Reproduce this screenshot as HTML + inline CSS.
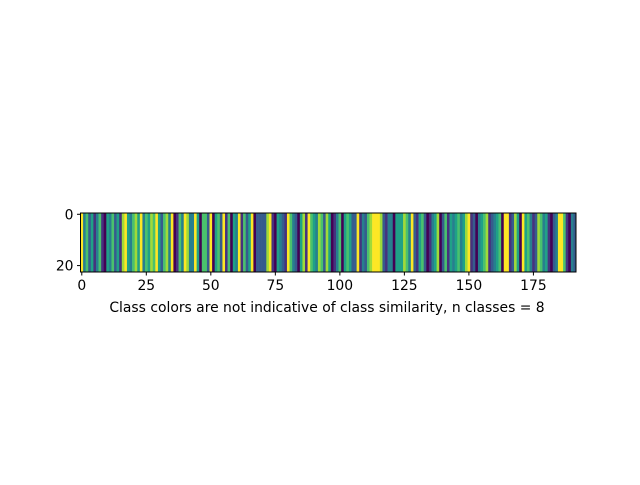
<!DOCTYPE html>
<html><head><meta charset="utf-8"><style>
body{margin:0;background:#fff;}
svg text{font-family:"DejaVu Sans","Liberation Sans",sans-serif;font-size:13.9px;fill:#000;}
</style></head><body>
<svg id="chart" width="640" height="480" xmlns="http://www.w3.org/2000/svg">
<rect width="640" height="480" fill="#fff"/>
<g id="cells"></g>
<rect x="80.5" y="213" width="495.5" height="59" fill="none" stroke="#000" stroke-width="1"/>
<g id="xticks"></g>
<g id="yticks"></g>
<text x="327" y="312" text-anchor="middle">Class colors are not indicative of class similarity, n classes = 8</text>
</svg>
<script>
const columnClasses = [
7,3,5,2,4,1,3,5,1,0,4,3,5,2,4,1,6,7,4,3,5,6,4,7,3,5,4,6,5,7,4,2,5,6,3,7,0,1,5,3,7,6,3,3,7,4,0,5,5,2,
7,0,4,5,2,7,1,5,0,4,3,7,1,5,2,4,7,0,2,2,2,2,6,7,1,0,4,3,2,1,7,5,3,2,0,4,6,1,7,5,4,3,6,5,2,6,4,0,
1,3,5,0,4,5,4,2,2,7,1,3,2,5,6,7,7,7,6,2,1,3,3,0,4,4,4,6,5,3,7,2,1,4,5,2,0,1,3,4,6,0,2,5,1,4,3,4,
5,3,4,6,7,1,2,0,3,4,5,6,1,2,3,4,5,0,7,7,1,2,6,4,0,7,4,5,3,1,2,6,5,3,4,1,0,2,3,7,7,5,1,0,3,2];
const nRows = 23;
const xTickValues = [0,25,50,75,100,125,150,175];
const yTickValues = [0,20];
const palette = ["#440154","#46327e","#365c8d","#277f8e","#1fa187","#4ac16d","#a0da39","#fde725"];

const X0=80.5, X1=576, Y0=213, Y1=272;
const nCols = columnClasses.length;
const cw=(X1-X0)/nCols, ch=(Y1-Y0)/nRows;
const xPos = v => X0 + (v+0.5)*cw;
const yPos = v => Y0 + (v+0.5)*ch;
const NS="http://www.w3.org/2000/svg";
const cells=document.getElementById('cells');
columnClasses.forEach((c,i)=>{
  const r=document.createElementNS(NS,'rect');
  
  
  r.setAttribute('x',X0+i*cw); r.setAttribute('y',Y0);
  r.setAttribute('width',cw+0.3); r.setAttribute('height',nRows*ch);
  r.setAttribute('fill',palette[c]);
  cells.appendChild(r);
});
const xt=document.getElementById('xticks');
xTickValues.forEach(v=>{
  const x=xPos(v);
  const l=document.createElementNS(NS,'line');
  
  
  l.setAttribute('x1',x);l.setAttribute('x2',x);l.setAttribute('y1',Y1);l.setAttribute('y2',Y1+3.5);
  l.setAttribute('stroke','#000');
  xt.appendChild(l);
  const t=document.createElementNS(NS,'text');
  
  
  t.setAttribute('x',x);t.setAttribute('y',Y1+18);t.setAttribute('text-anchor','middle');
  t.textContent=v; xt.appendChild(t);
});
const yt=document.getElementById('yticks');
yTickValues.forEach(v=>{
  const y=yPos(v);
  const l=document.createElementNS(NS,'line');
  
  
  l.setAttribute('x1',X0-3.5);l.setAttribute('x2',X0);l.setAttribute('y1',y);l.setAttribute('y2',y);
  l.setAttribute('stroke','#000');
  yt.appendChild(l);
  const t=document.createElementNS(NS,'text');
  
  
  t.setAttribute('x',X0-7);t.setAttribute('y',y+5);t.setAttribute('text-anchor','end');
  t.textContent=v; yt.appendChild(t);
});
</script>
</body></html>
